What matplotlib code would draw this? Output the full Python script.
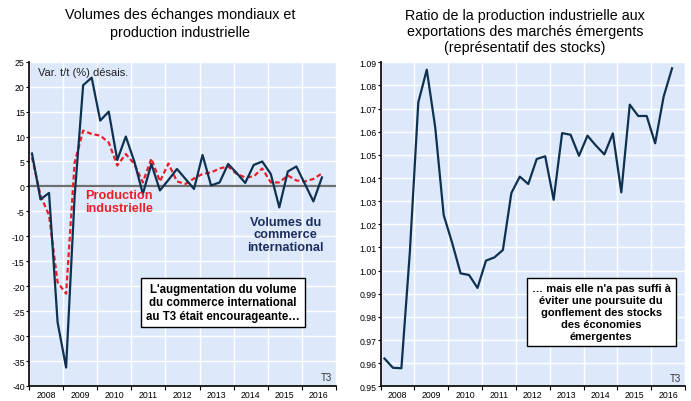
import matplotlib
matplotlib.use("Agg")
import matplotlib.pyplot as plt
import numpy as np

# ---------------- data ----------------
years = [2008, 2009, 2010, 2011, 2012, 2013, 2014, 2015, 2016]
year_labels = [str(y) for y in years]

# Left chart: quarterly q/q % change, 2008Q1 .. 2016Q3
trade_volume = [6.6, -2.6, -1.3, -27.2, -36.3, -2.0, 20.3, 21.8, 13.2, 15.0,
                5.3, 10.0, 5.0, -1.5, 4.5, -0.8, 1.3, 3.5, 1.5, -0.5,
                6.3, 0.2, 0.8, 4.5, 2.7, 0.7, 4.3, 5.0, 2.5, -4.2,
                3.0, 4.0, 0.5, -3.0, 1.8]
industrial_prod = [5.8, -1.8, -5.8, -19.2, -21.5, 4.8, 11.2, 10.5, 10.2, 8.8,
                   4.2, 6.5, 4.5, 0.8, 5.6, 1.0, 4.6, 1.0, 0.5, 1.6,
                   2.5, 2.8, 3.6, 4.0, 2.5, 1.8, 2.0, 3.6, 0.8, 0.8,
                   2.2, 1.2, 1.0, 1.5, 2.6]

# Right chart: ratio industrial production / exports, emerging markets
ratio = [0.962, 0.958, 0.9578, 1.008, 1.0727, 1.0868, 1.0619, 1.024, 1.012, 0.9988,
         0.9981, 0.9925, 1.0043, 1.0057, 1.0089, 1.0335, 1.0406, 1.0374, 1.0482, 1.0494,
         1.0306, 1.0594, 1.0587, 1.0496, 1.0583, 1.054, 1.0502, 1.0593, 1.0338, 1.0717,
         1.0668, 1.0668, 1.055, 1.0751, 1.0874]

left_title = "Volumes des échanges mondiaux et\nproduction industrielle"
right_title = ("Ratio de la production industrielle aux\n"
               "exportations des marchés émergents\n(représentatif des stocks)")

# ---------------- style ----------------
plt.rcParams['font.family'] = ['Liberation Sans', 'DejaVu Sans']
NARROW = ['Liberation Sans Narrow', 'Liberation Sans', 'DejaVu Sans']
BG = '#dde9fb'
NAVY = '#0f3150'
RED = '#e8202a'

fig = plt.figure(figsize=(6.91, 4.02), dpi=100)

def style_axes(ax, ymin, ymax, ystep, fmt):
    ax.set_facecolor(BG)
    ax.set_xlim(2008, 2017)
    ax.set_ylim(ymin, ymax)
    ax.set_xticks(np.arange(2008, 2018))
    ax.set_xticklabels([])
    ax.set_xticks([y + 0.5 for y in years], minor=True)
    ax.set_xticklabels(year_labels, minor=True, fontsize=6.3, family=NARROW)
    ax.tick_params(axis='x', which='major', length=3, width=0.8, direction='out')
    ax.tick_params(axis='x', which='minor', length=0, pad=3)
    yt = np.arange(ymin, ymax + ystep / 2, ystep)
    ax.set_yticks(yt)
    ax.set_yticklabels([fmt(v) for v in yt], fontsize=6.3, family=NARROW)
    ax.tick_params(axis='y', length=2, width=0.8, direction='out', pad=1)
    ax.grid(True, which='major', color='white', linewidth=1.0)
    ax.set_axisbelow(True)
    for s in ['top', 'right']:
        ax.spines[s].set_visible(False)
    for s in ['left', 'bottom']:
        ax.spines[s].set_linewidth(1.3)
        ax.spines[s].set_color('#111111')

# ---------------- left chart ----------------
axL = fig.add_axes([29 / 691, 1 - 387 / 402, (336 - 29) / 691, (387 - 62.7) / 402])
style_axes(axL, -40, 25, 5, lambda v: f"{int(round(v))}")
xL = [2008 + (i + 0.35) / 4 for i in range(len(trade_volume))]
axL.axhline(0, color='#6e6e6e', linewidth=1.6, zorder=1.5)
axL.plot(xL, industrial_prod, color=RED, linewidth=1.6, linestyle=(0, (2.2, 1.3)), zorder=3)
axL.plot(xL, trade_volume, color=NAVY, linewidth=1.6, zorder=4)

axL.text(0.03, 0.985, "Var. t/t (%) désais.", transform=axL.transAxes,
         ha='left', va='top', fontsize=8, color='#222222')
axL.text(2009.64, -3.0, "Production\nindustrielle", color=RED, fontsize=9.2,
         fontweight='bold', ha='left', va='center', linespacing=1.1, zorder=5)
axL.text(2015.52, -9.6, "Volumes du\ncommerce\ninternational", color='#1c2f5e',
         fontsize=9.2, fontweight='bold', ha='center', va='center', linespacing=1.05)
axL.text(2013.69, -23.2, "L'augmentation du volume\ndu commerce international\nau T3 était encourageante…",
         ha='center', va='center', fontsize=8.3, fontweight='bold', color='black',
         linespacing=1.15,
         bbox=dict(boxstyle='square,pad=0.45', facecolor='white', edgecolor='black', linewidth=1.0))
axL.text(2016.88, -38.2, "T3", ha='right', va='center', fontsize=7, color='#333333')

fig.text(180 / 691, 1 - 24 / 402, left_title, ha='center', va='center', fontsize=10.3,
         linespacing=1.3)

# ---------------- right chart ----------------
axR = fig.add_axes([380.5 / 691, 1 - 387.3 / 402, (685 - 380.5) / 691, (387.3 - 63.3) / 402])
style_axes(axR, 0.95, 1.09, 0.01, lambda v: f"{v:.2f}")
xR = [2008 + (i + 0.47) / 4 for i in range(len(ratio))]
axR.plot(xR, ratio, color=NAVY, linewidth=1.6, zorder=4)
axR.text(2014.52, 0.982, "… mais elle n'a pas suffi à\néviter une poursuite du\ngonflement des stocks\ndes économies\némergentes",
         ha='center', va='center', fontsize=8, fontweight='bold', color='black',
         linespacing=1.25,
         bbox=dict(boxstyle='square,pad=0.45', facecolor='white', edgecolor='black', linewidth=1.0))
axR.text(2016.88, 0.9535, "T3", ha='right', va='center', fontsize=7, color='#333333')

fig.text(525 / 691, 1 - 32 / 402, right_title, ha='center', va='center', fontsize=10.3,
         linespacing=1.2)

fig.savefig("out.png", dpi=100)
